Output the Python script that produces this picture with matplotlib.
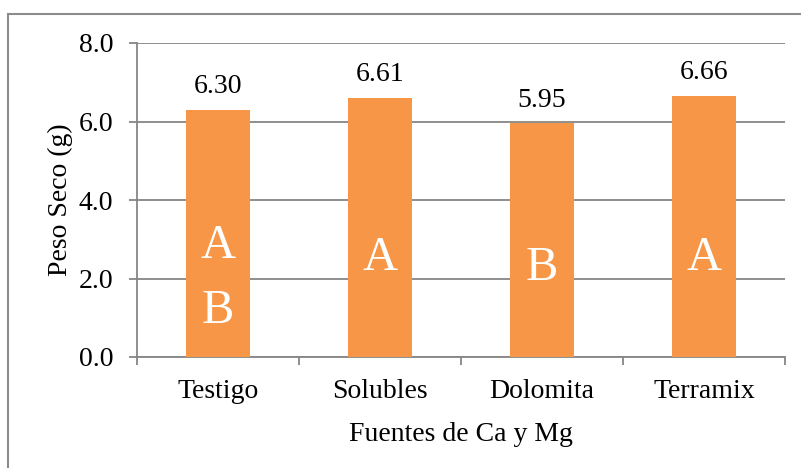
import matplotlib
matplotlib.use("Agg")
import matplotlib.pyplot as plt
from matplotlib.patches import Rectangle
import numpy as np

categories = ["Testigo", "Solubles", "Dolomita", "Terramix"]
peso_seco = [6.30, 6.61, 5.95, 6.66]
letters = ["A\nB", "A", "B", "A"]
y_ticks = [0.0, 2.0, 4.0, 6.0, 8.0]

BAR_COLOR = "#F79646"
GRID_COLOR = "#868686"
FS = 20

plt.rcParams["font.family"] = ["Liberation Serif", "DejaVu Serif"]

fig = plt.figure(figsize=(8.01, 4.68), dpi=100)
ax = fig.add_axes([137 / 801, 1 - 357 / 468, (785 - 137) / 801, (357 - 43) / 468])

x = np.arange(len(categories))
bars = ax.bar(x, peso_seco, width=0.4, color=BAR_COLOR, zorder=3)

ax.set_xlim(-0.5, len(categories) - 0.5)
ax.set_ylim(0, 8)
ax.set_yticks(y_ticks)
ax.set_yticklabels([f"{v:.1f}" for v in y_ticks])
ax.yaxis.grid(True, color=GRID_COLOR, linewidth=1.3, zorder=0)

ax.set_xticks(x)
ax.set_xticklabels(categories)
ax.set_xticks(np.arange(-0.5, len(categories)), minor=True)
ax.tick_params(axis="x", which="major", length=0, pad=16, labelsize=FS)
ax.tick_params(axis="x", which="minor", length=6, width=1.3, color=GRID_COLOR)
ax.tick_params(axis="y", length=6, width=1.3, color=GRID_COLOR, pad=11, labelsize=FS)

for side in ["top", "right"]:
    ax.spines[side].set_visible(False)
for side in ["left", "bottom"]:
    ax.spines[side].set_color(GRID_COLOR)
    ax.spines[side].set_linewidth(1.3)

ax.set_ylabel("Peso Seco (g)", fontsize=FS, labelpad=4)
ax.set_xlabel("Fuentes de Ca y Mg", fontsize=FS, labelpad=13)

for bar, val, let in zip(bars, peso_seco, letters):
    cx = bar.get_x() + bar.get_width() / 2
    ax.annotate(f"{val:.2f}", (cx, val), xytext=(0, 12), textcoords="offset points",
                ha="center", va="baseline", fontsize=FS)
    ypos = 2.0 if "\n" in let else 0.38 * val
    ax.text(cx, ypos, let, ha="center", va="center", fontsize=35, color="white",
            linespacing=1.6, zorder=4)

fig.add_artist(Rectangle((8 / 801, -0.1), 1.2, 1.1 - 14 / 468, transform=fig.transFigure,
                         fill=False, edgecolor="#8c8c8c", linewidth=1.5))

fig.savefig("out.png", dpi=100)
